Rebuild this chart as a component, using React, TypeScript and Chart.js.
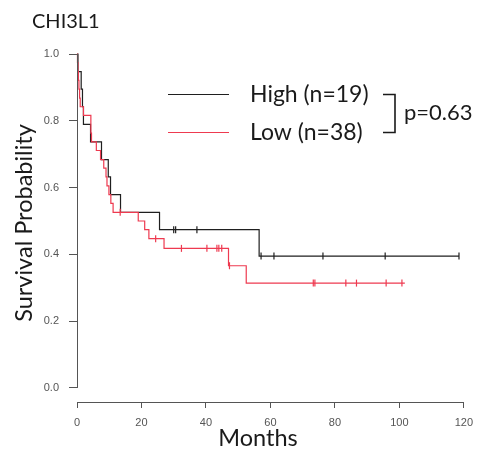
import React, { useEffect, useRef } from 'react';
import { Chart, registerables } from 'chart.js';

Chart.register(...registerables);

// ---- data ----
const highTimes = [0, 0.3, 1.3, 1.7, 2.0, 4.2, 7.6, 9.7, 10.4, 13.5, 25.6, 56.5, 118.5];
const highSurv = [1.0, 0.947, 0.895, 0.842, 0.789, 0.737, 0.684, 0.632, 0.579, 0.526, 0.474, 0.395, 0.395];
const highCensor = [30.0, 30.6, 37.2, 57.1, 61.1, 76.3, 95.6, 118.5];

const lowTimes = [0, 0.15, 0.3, 0.45, 0.6, 0.8, 1.0, 2.0, 4.3, 4.5, 6.0, 7.3, 8.3, 9.0, 9.3, 9.9, 10.5, 11.2, 19.0, 21.0, 22.3, 27.0, 47.0, 52.5, 101.7];
const lowSurv = [1.0, 0.974, 0.947, 0.921, 0.895, 0.868, 0.842, 0.816, 0.763, 0.737, 0.711, 0.684, 0.658, 0.632, 0.605, 0.579, 0.553, 0.526, 0.5, 0.474, 0.447, 0.418, 0.366, 0.314, 0.314];
const lowCensor = [13.4, 24.4, 32.4, 40.3, 43.4, 44.0, 44.9, 47.3, 73.3, 73.8, 83.4, 86.7, 95.9, 100.8];

const xTicks = [0, 20, 40, 60, 80, 100, 120];
const yTicks = [0.0, 0.2, 0.4, 0.6, 0.8, 1.0];

const titleText = 'CHI3L1';
const xTitle = 'Months';
const yTitle = 'Survival Probability';
const legendLabels = ['High (n=19)', 'Low (n=38)'];
const pText = 'p=0.63';

const HIGH_COLOR = '#1f1f1f';
const LOW_COLOR = '#ee3a50';
const TEXT_FONT = 'Lato, "Open Sans", sans-serif';

function stepAt(times: number[], surv: number[], t: number): number {
  let v = surv[0];
  for (let i = 0; i < times.length; i++) if (times[i] <= t) v = surv[i];
  return v;
}

const textPlugin = {
  id: 'kmText',
  afterDraw(chart: any) {
    const ctx = chart.ctx as CanvasRenderingContext2D;
    const xs = chart.scales.x;
    const ys = chart.scales.y;
    const area = chart.chartArea;
    ctx.save();
    // detached axis lines
    ctx.strokeStyle = '#555';
    ctx.lineWidth = 1;
    ctx.beginPath();
    const ax = Math.round(area.left) + 0.5;
    ctx.moveTo(ax, ys.getPixelForValue(yTicks[0]));
    ctx.lineTo(ax, ys.getPixelForValue(yTicks[yTicks.length - 1]));
    const ay = Math.round(area.bottom) + 0.5;
    ctx.moveTo(xs.getPixelForValue(xTicks[0]), ay);
    ctx.lineTo(xs.getPixelForValue(xTicks[xTicks.length - 1]), ay);
    ctx.stroke();

    ctx.fillStyle = '#1a1a1a';
    // title
    ctx.font = `20px ${TEXT_FONT}`;
    ctx.textAlign = 'left';
    ctx.textBaseline = 'middle';
    ctx.fillText(titleText, 32, 22);

    // x title
    ctx.font = `23.5px ${TEXT_FONT}`;
    ctx.textAlign = 'center';
    ctx.fillText(xTitle, 258, 438);

    // y title
    ctx.save();
    ctx.translate(24, 223);
    ctx.rotate(-Math.PI / 2);
    ctx.font = `23.5px ${TEXT_FONT}`;
    ctx.fillText(yTitle, 0, 0);
    ctx.restore();

    // legend
    ctx.lineWidth = 1.2;
    ctx.strokeStyle = HIGH_COLOR;
    ctx.beginPath();
    ctx.moveTo(168, 94.5);
    ctx.lineTo(229, 94.5);
    ctx.stroke();
    ctx.strokeStyle = LOW_COLOR;
    ctx.beginPath();
    ctx.moveTo(168, 132.5);
    ctx.lineTo(229, 132.5);
    ctx.stroke();

    ctx.font = `23px ${TEXT_FONT}`;
    ctx.textAlign = 'left';
    ctx.fillText(legendLabels[0], 250, 95);
    ctx.fillText(legendLabels[1], 250, 133);

    // bracket
    ctx.strokeStyle = '#1a1a1a';
    ctx.lineWidth = 1.6;
    ctx.beginPath();
    ctx.moveTo(383, 94.5);
    ctx.lineTo(395, 94.5);
    ctx.lineTo(395, 132.5);
    ctx.lineTo(383, 132.5);
    ctx.stroke();

    ctx.font = `22px ${TEXT_FONT}`;
    ctx.fillText(pText, 404, 113);
    ctx.restore();
  },
};

export default function App() {
  const ref = useRef<HTMLCanvasElement | null>(null);
  useEffect(() => {
    document.body.style.margin = '0';
    const canvas = ref.current;
    if (!canvas) return;
    const highLine = highTimes.map((t, i) => ({ x: t, y: highSurv[i] }));
    const lowLine = lowTimes.map((t, i) => ({ x: t, y: lowSurv[i] }));
    const highMarks = highCensor.map((t) => ({ x: t, y: stepAt(highTimes, highSurv, t) }));
    const lowMarks = lowCensor.map((t) => ({ x: t, y: stepAt(lowTimes, lowSurv, t) }));

    const tickFont = { family: '"Liberation Sans", Arial, sans-serif', size: 11 };
    const chart = new Chart(canvas, {
      type: 'scatter',
      data: {
        datasets: [
          {
            data: lowLine,
            showLine: true,
            stepped: true,
            borderColor: LOW_COLOR,
            borderWidth: 1.2,
            pointRadius: 0,
            clip: false,
          } as any,
          {
            data: lowMarks,
            showLine: false,
            pointStyle: 'line',
            rotation: 90,
            pointRadius: 3.5,
            borderColor: LOW_COLOR,
            borderWidth: 1.2,
            clip: false,
          } as any,
          {
            data: highLine,
            showLine: true,
            stepped: true,
            borderColor: HIGH_COLOR,
            borderWidth: 1.2,
            pointRadius: 0,
            clip: false,
          } as any,
          {
            data: highMarks,
            showLine: false,
            pointStyle: 'line',
            rotation: 90,
            pointRadius: 3.5,
            borderColor: HIGH_COLOR,
            borderWidth: 1.2,
            clip: false,
          } as any,
        ],
      },
      options: {
        animation: false,
        responsive: false,
        maintainAspectRatio: false,
        layout: { padding: { top: 54, right: 11, left: 0, bottom: 0 } },
        plugins: { legend: { display: false }, tooltip: { enabled: false } },
        scales: {
          x: {
            type: 'linear',
            min: 0,
            max: 120,
            afterBuildTicks: (s: any) => {
              s.ticks = xTicks.map((v) => ({ value: v }));
            },
            afterFit: (s: any) => {
              s.height = 61;
            },
            ticks: {
              font: tickFont,
              color: '#555',
              padding: 8,
              maxRotation: 0,
              autoSkip: false,
              callback: (v: any) => String(v),
            },
            grid: { display: true, drawOnChartArea: false, drawTicks: true, tickLength: 6, color: '#555' },
            border: { display: false },
          },
          y: {
            type: 'linear',
            min: -0.042,
            max: 1.0,
            afterBuildTicks: (s: any) => {
              s.ticks = yTicks.map((v) => ({ value: v }));
            },
            afterFit: (s: any) => {
              s.width = 77;
            },
            ticks: {
              font: tickFont,
              color: '#555',
              padding: 10,
              callback: (v: any) => Number(v).toFixed(1),
            },
            grid: { display: true, drawOnChartArea: false, drawTicks: true, tickLength: 8, color: '#555' },
            border: { display: false },
          },
        },
      } as any,
      plugins: [textPlugin],
    });
    return () => chart.destroy();
  }, []);
  return (
    <div style={{ width: 481, height: 463 }}>
      <canvas ref={ref} width={481} height={463} style={{ display: 'block' }} />
    </div>
  );
}
